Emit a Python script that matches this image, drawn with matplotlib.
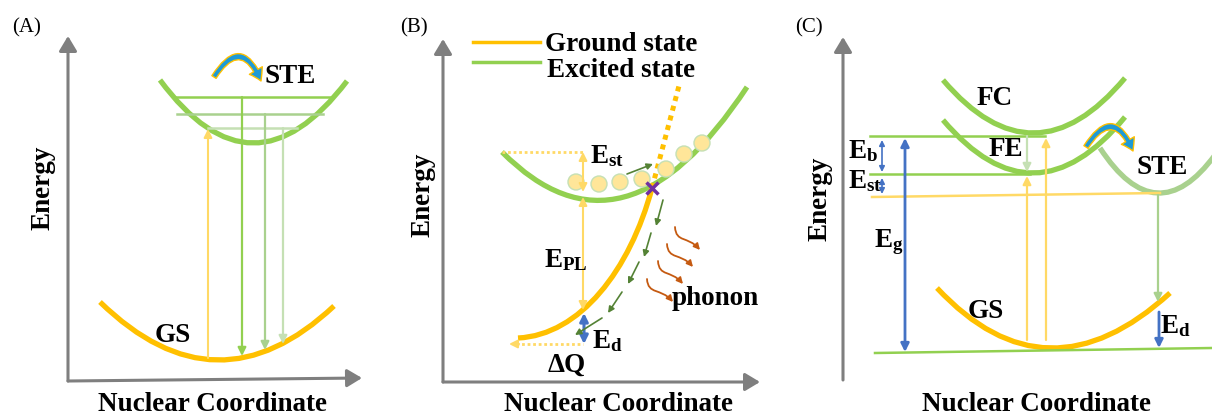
import numpy as np
import matplotlib.pyplot as plt
from matplotlib.path import Path
from matplotlib.patches import PathPatch, FancyArrowPatch, Circle

plt.rcParams['font.family'] = ['Liberation Serif', 'DejaVu Serif']
plt.rcParams['mathtext.fontset'] = 'custom'
plt.rcParams['mathtext.rm'] = 'Liberation Serif:bold'
plt.rcParams['mathtext.it'] = 'Liberation Serif:bold'
plt.rcParams['mathtext.bf'] = 'Liberation Serif:bold'

ORANGE = '#FFC000'
GREEN = '#92D050'
LGREEN = '#A9D18E'
PGREEN = '#C5E0B4'
YELLOW = '#FFD966'
BLUE = '#4472C4'
GRAY = '#7F7F7F'
DGREEN = '#548235'
BROWN = '#C55A11'
PURPLE = '#7030A0'
CYAN = '#1E9AD6'

# everything is laid out in pixel coordinates of the 1212x418 picture
panel_tags = ['(A)', '(B)', '(C)']
tag_x = [12, 400, 795]
axis_origin = [(68, 381), (443, 382), (843, 380)]
axis_top = [(68, 36), (443, 39), (843, 37)]
axis_right = [(362, 378), (760, 382), (1240, 380)]
ylabel_x = [43, 423, 820]
ylabel_y = [188, 195, 199]
xlabel_x = [212, 619, 1037]

# potential curves: left end, middle point, right end
curve_pts = [
    [(160, 80), (253, 143), (347, 81)],      # A excited (STE)
    [(100, 302), (217, 360), (334, 306)],    # A ground
    [(502, 152), (624, 197), (747, 87)],     # B excited
    [(943, 80), (1034, 133), (1125, 78)],    # C FC
    [(943, 120), (1034, 173), (1125, 117)],  # C FE
    [(1100, 148), (1157, 193), (1215, 155)], # C STE
    [(937, 288), (1050, 348), (1170, 293)],  # C GS
]
curve_colors = [GREEN, ORANGE, GREEN, GREEN, GREEN, LGREEN, ORANGE]

# panel A: vibrational levels and transitions
level_y = [97, 114, 128]
level_x0 = [173, 177, 208]
level_x1 = [333, 323, 297]
level_colors = [GREEN, LGREEN, PGREEN]
emis_x = [242, 265, 283]
emis_end = [356, 350, 344]
absA = [(208, 358), (208, 129)]

# panel B
groundB = [(518, 338), (580, 335), (630, 270), (652, 188)]
groundB_dots = [(652, 188), (680, 82)]
cross_pt = (652, 188)
ball_x = [576, 599, 620, 642, 666, 684, 702]
ball_y = [182, 184, 182, 179, 169, 154, 143]
relax_start = [(663, 200), (651, 233), (639, 262), (622, 292), (602, 318)]
relax_end = [(656, 226), (644, 257), (628, 284), (608, 313), (575, 335)]
phonon_start = [(675, 227), (667, 244), (658, 261), (647, 279)]
phonon_end = [(700, 250), (693, 267), (683, 284), (673, 302)]

# panel C
c_levels = [[(870, 136), (1045, 136)], [(870, 174), (1030, 174)],
            [(875, 353), (1212, 348)]]
c_yellow = [(872, 197), (1160, 193)]

# curved "self-trapping" icons
icon_start = [(214, 77), (1086, 147)]
icon_end = [(261, 81), (1133, 151)]

labels = ['STE', 'GS', 'phonon', r'$\mathrm{E_{st}}$', r'$\mathrm{E_{PL}}$',
          r'$\mathrm{E_d}$', 'ΔQ', 'FC', 'FE', 'STE', 'GS',
          r'$\mathrm{E_b}$', r'$\mathrm{E_{st}}$', r'$\mathrm{E_g}$',
          r'$\mathrm{E_d}$']
label_x = [265, 155, 672, 590, 544, 592, 548, 977, 989, 1137, 968,
           848, 848, 874, 1160]
label_y = [83, 342, 305, 163, 267, 348, 372, 105, 156, 174, 318,
           158, 188, 247, 333]

fig = plt.figure(figsize=(12.12, 4.18), dpi=100)
ax = fig.add_axes([0, 0, 1, 1])
ax.set_xlim(0, 1212)
ax.set_ylim(418, 0)
ax.axis('off')


def arrow(p0, p1, color, lw=1.5, style='-|>', ms=12):
    ax.annotate('', xy=p1, xytext=p0,
                arrowprops=dict(arrowstyle=style, color=color, lw=lw,
                                shrinkA=0, shrinkB=0, mutation_scale=ms))


def curve(pts, color, lw=3.8):
    p = np.array(pts, float)
    if len(p) == 3:
        verts = [p[0], 2 * p[1] - (p[0] + p[2]) / 2, p[2]]
        codes = [Path.MOVETO, Path.CURVE3, Path.CURVE3]
    else:
        verts = p
        codes = [Path.MOVETO, Path.CURVE4, Path.CURVE4, Path.CURVE4]
    ax.add_patch(PathPatch(Path(verts, codes), fc='none', ec=color, lw=lw,
                           capstyle='butt'))


# axes of the sketches
for i in range(3):
    arrow(axis_origin[i], axis_top[i], GRAY, lw=2.2,
          style='-|>,head_length=0.5,head_width=0.3', ms=18)
    arrow(axis_origin[i], axis_right[i], GRAY, lw=2.2,
          style='-|>,head_length=0.5,head_width=0.3', ms=18)
    ax.text(tag_x[i], 32, panel_tags[i], fontsize=15, va='baseline')
    ax.text(ylabel_x[i], ylabel_y[i], 'Energy', rotation=90, fontsize=19.5,
            fontweight='bold', ha='center', va='center')
    ax.text(xlabel_x[i], 411, 'Nuclear Coordinate', fontsize=19.5,
            fontweight='bold', ha='center', va='baseline')

# panel A
for i in range(3):
    ax.plot([level_x0[i], level_x1[i]], [level_y[i]] * 2,
            color=level_colors[i], lw=1.8)
    arrow((emis_x[i], level_y[i]), (emis_x[i], emis_end[i]),
          level_colors[i], lw=1.6)
arrow(absA[0], absA[1], YELLOW, lw=1.5)

for pts, col in zip(curve_pts, curve_colors):
    curve(pts, col)

# panel B
ax.plot([473, 540], [42, 42], color=ORANGE, lw=2.5)
ax.plot([473, 540], [62, 62], color=GREEN, lw=2.5)
ax.text(545, 51, 'Ground state', fontsize=19.5, fontweight='bold')
ax.text(547, 77, 'Excited state', fontsize=19.5, fontweight='bold')

curve(groundB, ORANGE)
ax.plot(*zip(*groundB_dots), color=ORANGE, lw=3.6, ls=(0, (1, 1)),
        solid_capstyle='butt', dash_capstyle='butt')
for bx, by in zip(ball_x, ball_y):
    ax.add_patch(Circle((bx, by), 8, fc='#FFE699', ec=PGREEN, lw=1, zorder=3))
ax.plot(*cross_pt, marker='x', ms=8, mew=2.5, color=PURPLE, zorder=4)

ax.plot([502, 583], [152, 152], color=YELLOW, lw=2, ls=(0, (1, 1)))
ax.plot([516, 583], [344, 344], color=YELLOW, lw=2, ls=(0, (1, 1)))
arrow((519, 344), (509, 344), YELLOW, lw=1.5)
arrow((583, 152), (583, 192), YELLOW, lw=1.5, style='<|-|>')
arrow((583, 197), (583, 310), YELLOW, lw=1.5, style='<|-|>')
arrow((584, 313), (584, 344), BLUE, lw=2.2, style='<|-|>')
arrow((627, 174), (653, 164), DGREEN, lw=1.2, ms=9)

for s, e in zip(relax_start, relax_end):
    arrow(s, e, DGREEN, lw=1.2, ms=9)
for s, e in zip(phonon_start, phonon_end):
    s, e = np.array(s, float), np.array(e, float)
    wave = Path([s, s + (1, 16), e + (-12, -14), e],
                [Path.MOVETO, Path.CURVE4, Path.CURVE4, Path.CURVE4])
    ax.add_patch(FancyArrowPatch(path=wave, arrowstyle='-|>',
                                 mutation_scale=9, color=BROWN, lw=1.3))

# panel C
for seg in c_levels:
    ax.plot(*zip(*seg), color=GREEN, lw=1.8)
ax.plot(*zip(*c_yellow), color=YELLOW, lw=1.8)
arrow((882, 140), (882, 172), BLUE, lw=1.2, style='<|-|>', ms=8)
arrow((882, 178), (882, 194), BLUE, lw=1.2, style='<|-|>', ms=8)
arrow((905, 352), (905, 138), BLUE, lw=2, style='<|-|>')
arrow((1027, 136), (1027, 172), PGREEN, lw=1.6)
arrow((1027, 340), (1027, 176), YELLOW, lw=1.6)
arrow((1046, 340), (1046, 138), YELLOW, lw=1.6)
arrow((1158, 195), (1158, 302), LGREEN, lw=1.6)
arrow((1159, 312), (1159, 348), BLUE, lw=2)

for s, e in zip(icon_start, icon_end):
    ax.add_patch(FancyArrowPatch(
        s, e, connectionstyle='arc3,rad=-0.95',
        arrowstyle='simple,head_length=0.7,head_width=0.9,tail_width=0.3',
        mutation_scale=12, fc=CYAN, ec=ORANGE, lw=1, shrinkA=0, shrinkB=0,
        zorder=5))

for t, x, y in zip(labels, label_x, label_y):
    ax.text(x, y, t, fontsize=19.5, fontweight='bold', va='baseline',
            zorder=6)

fig.savefig('out.png', dpi=100)
